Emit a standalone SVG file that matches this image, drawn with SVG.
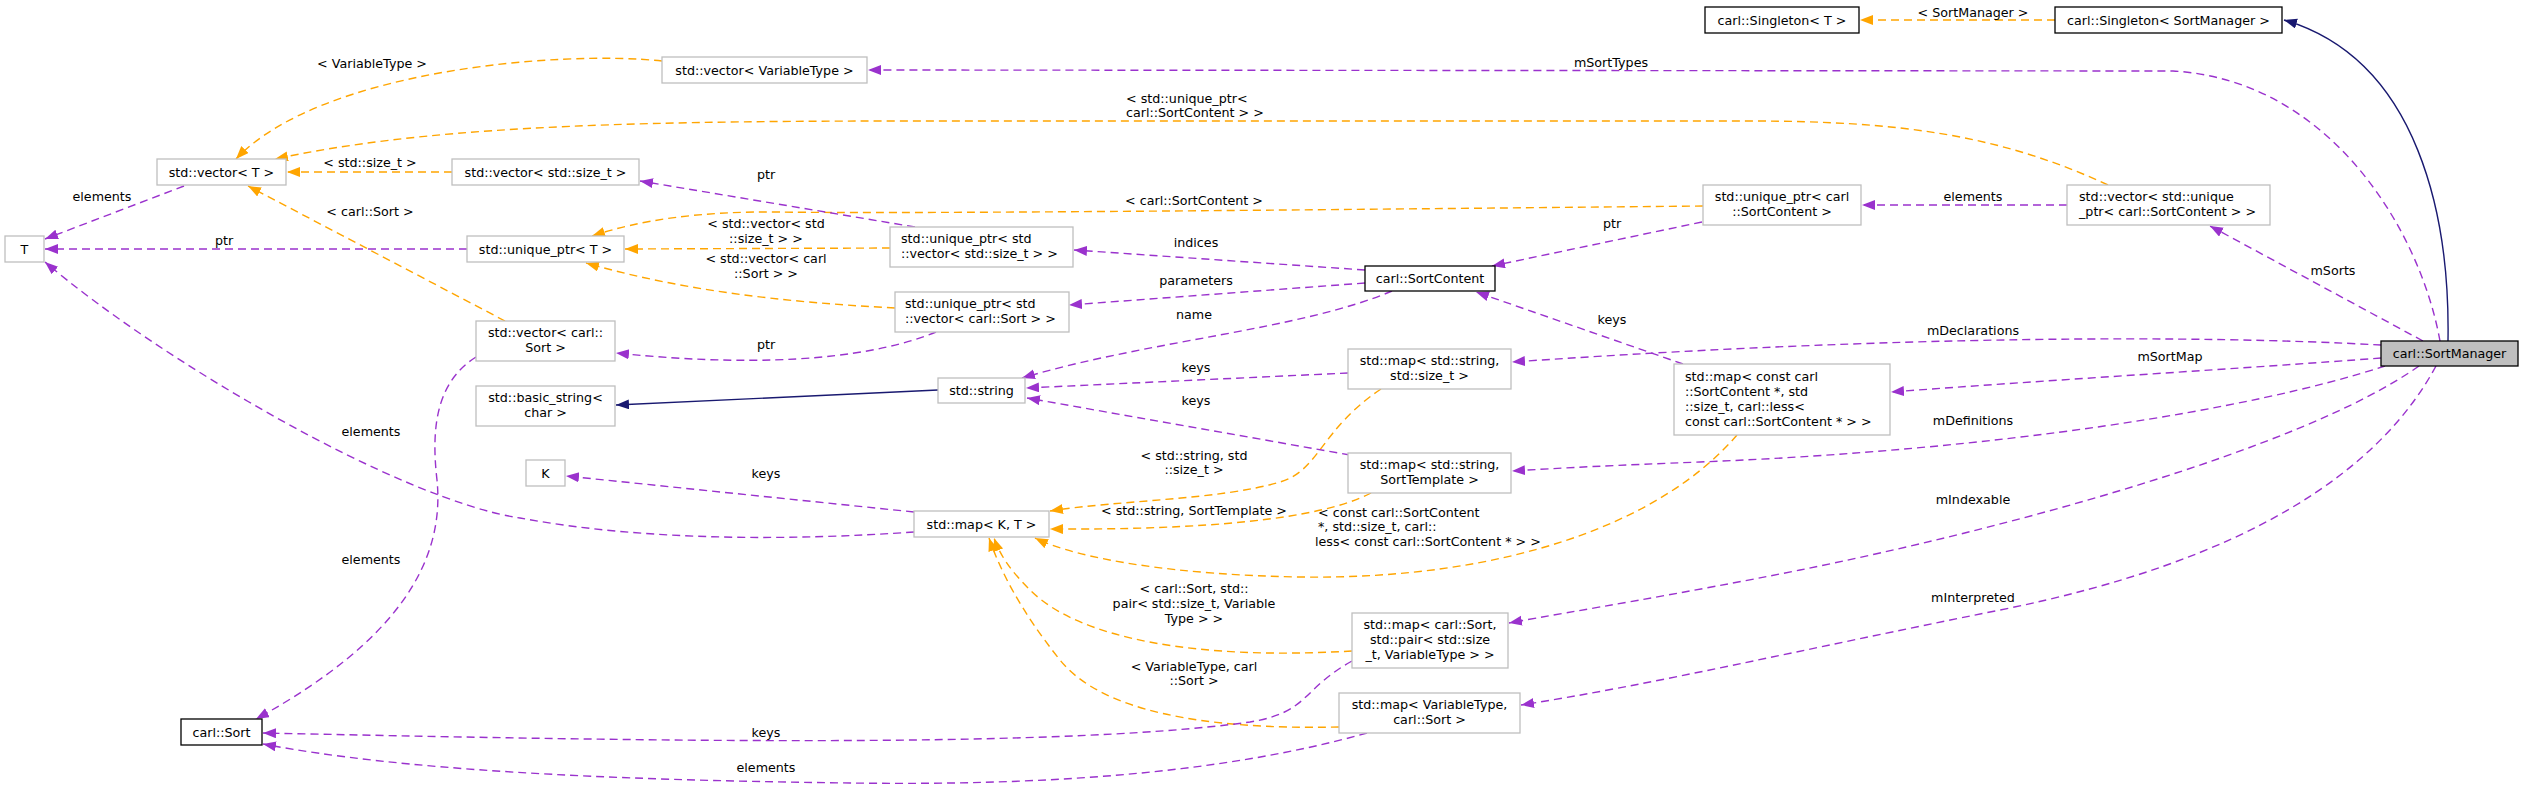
<svg xmlns="http://www.w3.org/2000/svg" width="2524" height="790" viewBox="0 0 2524 790">
<style>
text{font-family:"DejaVu Sans","Liberation Sans",sans-serif;font-size:12.7px;fill:#000}
.c{text-anchor:middle}
.l{text-anchor:start}
.n{fill:#fff;stroke:#bfbfbf;stroke-width:1.3}
.d{fill:#fff;stroke:#000;stroke-width:1.3}
.cur{fill:#bfbfbf;stroke:#000;stroke-width:1.3}
.pu{fill:none;stroke:#9a32cd;stroke-width:1.4;stroke-dasharray:8,5;marker-end:url(#ap)}
.or{fill:none;stroke:#ffa500;stroke-width:1.4;stroke-dasharray:8,5;marker-end:url(#ao)}
.nv{fill:none;stroke:#191970;stroke-width:1.4;marker-end:url(#an)}
</style>
<defs>
<marker id="ap" markerUnits="userSpaceOnUse" markerWidth="14" markerHeight="12" refX="13" refY="5" orient="auto"><path d="M0,0 L13,5 L0,10 z" fill="#9a32cd"/></marker>
<marker id="ao" markerUnits="userSpaceOnUse" markerWidth="14" markerHeight="12" refX="13" refY="5" orient="auto"><path d="M0,0 L13,5 L0,10 z" fill="#ffa500"/></marker>
<marker id="an" markerUnits="userSpaceOnUse" markerWidth="14" markerHeight="12" refX="13" refY="5" orient="auto"><path d="M0,0 L13,5 L0,10 z" fill="#191970"/></marker>
</defs>
<rect width="2524" height="790" fill="#fff"/>
<g id="connectors">
<path class="nv" d="M2448,341 C2450,220 2420,60 2284,20"/>
<path class="nv" d="M938,390 L616,405"/>
<path class="or" d="M2055,20 L1860,20"/>
<text class="c" x="1973" y="17">&lt; SortManager &gt;</text>
<path class="or" d="M662,61 C560,50 320,70 236,159"/>
<text class="c" x="372" y="68">&lt; VariableType &gt;</text>
<path class="or" d="M2108,185 C2000,135 1900,121 1750,121 L900,121 C600,121 420,128 275,159"/>
<text class="l" x="1126" y="103">&lt; std::unique_ptr&lt;</text>
<text class="l" x="1126" y="117">carl::SortContent &gt; &gt;</text>
<path class="or" d="M452,172 L287,172"/>
<text class="c" x="370" y="167">&lt; std::size_t &gt;</text>
<path class="or" d="M505,321 L248,186"/>
<text class="c" x="370" y="216">&lt; carl::Sort &gt;</text>
<path class="or" d="M1703,206 C1300,210 900,214 780,212 C700,211 640,220 592,236"/>
<text class="c" x="1194" y="205">&lt; carl::SortContent &gt;</text>
<path class="or" d="M890,248 L625,249"/>
<text class="c" x="766" y="228">&lt; std::vector&lt; std</text>
<text class="c" x="766" y="243">::size_t &gt; &gt;</text>
<path class="or" d="M895,308 C780,302 680,290 586,263"/>
<text class="c" x="766" y="263">&lt; std::vector&lt; carl</text>
<text class="c" x="766" y="278">::Sort &gt; &gt;</text>
<path class="or" d="M1381,389 C1320,430 1320,470 1280,482 C1220,500 1120,500 1050,511"/>
<text class="c" x="1194" y="460">&lt; std::string, std</text>
<text class="c" x="1194" y="474">::size_t &gt;</text>
<path class="or" d="M1371,493 C1320,520 1200,530 1050,529"/>
<text class="c" x="1194" y="515">&lt; std::string, SortTemplate &gt;</text>
<path class="or" d="M1737,435 C1660,525 1500,580 1300,577 C1180,575 1080,560 1035,538"/>
<text class="l" x="1318" y="517">&lt; const carl::SortContent</text>
<text class="l" x="1318" y="531">*, std::size_t, carl::</text>
<text class="l" x="1315" y="546">less&lt; const carl::SortContent * &gt; &gt;</text>
<path class="or" d="M1352,651 C1200,660 1080,640 1030,590 C1010,570 1000,555 994,538"/>
<text class="c" x="1194" y="593">&lt; carl::Sort, std::</text>
<text class="c" x="1194" y="608">pair&lt; std::size_t, Variable</text>
<text class="c" x="1194" y="623">Type &gt; &gt;</text>
<path class="or" d="M1339,727 C1200,730 1100,710 1060,660 C1020,610 1000,570 989,538"/>
<text class="c" x="1194" y="671">&lt; VariableType, carl</text>
<text class="c" x="1194" y="685">::Sort &gt;</text>
<path class="pu" d="M2440,341 C2420,230 2330,80 2173,71 L868,70"/>
<text class="c" x="1611" y="67">mSortTypes</text>
<path class="pu" d="M2423,341 L2210,226"/>
<text class="c" x="2333" y="275">mSorts</text>
<path class="pu" d="M2381,345 C2200,335 1900,335 1512,362"/>
<text class="c" x="1973" y="335">mDeclarations</text>
<path class="pu" d="M2381,358 C2250,368 2050,380 1891,392"/>
<text class="c" x="2170" y="361">mSortMap</text>
<path class="pu" d="M2385,366 C2250,410 2000,450 1700,462 C1620,465 1560,468 1512,471"/>
<text class="c" x="1973" y="425">mDefinitions</text>
<path class="pu" d="M2419,366 C2300,450 2000,530 1800,570 C1680,594 1580,610 1509,623"/>
<text class="c" x="1973" y="504">mIndexable</text>
<path class="pu" d="M2436,366 C2380,470 2250,560 2000,610 C1800,650 1650,685 1521,705"/>
<text class="c" x="1973" y="602">mInterpreted</text>
<path class="pu" d="M2067,205 L1862,205"/>
<text class="c" x="1973" y="201">elements</text>
<path class="pu" d="M1702,222 L1492,266"/>
<text class="c" x="1612" y="228">ptr</text>
<path class="pu" d="M1365,270 L1074,250"/>
<text class="c" x="1196" y="247">indices</text>
<path class="pu" d="M1365,283 L1069,305"/>
<text class="c" x="1196" y="285">parameters</text>
<path class="pu" d="M1392,291 C1300,330 1150,340 1022,378"/>
<text class="c" x="1194" y="319">name</text>
<path class="pu" d="M1683,364 L1476,292"/>
<text class="c" x="1612" y="324">keys</text>
<path class="pu" d="M1348,373 L1026,388"/>
<text class="c" x="1196" y="372">keys</text>
<path class="pu" d="M1350,455 L1027,398"/>
<text class="c" x="1196" y="405">keys</text>
<path class="pu" d="M915,227 L640,181"/>
<text class="c" x="766" y="179">ptr</text>
<path class="pu" d="M936,332 C880,355 780,370 616,353"/>
<text class="c" x="766" y="349">ptr</text>
<path class="pu" d="M467,249 L45,249"/>
<text class="c" x="224" y="245">ptr</text>
<path class="pu" d="M184,186 L45,239"/>
<text class="c" x="102" y="201">elements</text>
<path class="pu" d="M914,532 C800,540 650,542 520,518 C400,500 160,360 45,262"/>
<text class="c" x="371" y="436">elements</text>
<path class="pu" d="M914,512 L566,476"/>
<text class="c" x="766" y="478">keys</text>
<path class="pu" d="M476,357 C440,380 430,420 437,480 C445,560 400,640 256,719"/>
<text class="c" x="371" y="564">elements</text>
<path class="pu" d="M1352,661 C1300,690 1310,712 1250,722 C1050,750 600,740 263,733"/>
<text class="c" x="766" y="737">keys</text>
<path class="pu" d="M1367,733 C1200,780 1000,785 850,783 C600,780 400,770 263,744"/>
<text class="c" x="766" y="772">elements</text>
</g>
<g id="singletonT"><rect class="d" x="1705" y="7" width="154" height="26"/><text class="c" x="1782" y="24.5">carl::Singleton&lt; T &gt;</text></g>
<g id="singletonSM"><rect class="d" x="2055" y="7" width="227" height="26"/><text class="c" x="2168.5" y="24.5">carl::Singleton&lt; SortManager &gt;</text></g>
<g id="vecVT"><rect class="n" x="662" y="57" width="205" height="26"/><text class="c" x="764.5" y="74.5">std::vector&lt; VariableType &gt;</text></g>
<g id="vecT"><rect class="n" x="157" y="159" width="129" height="26"/><text class="c" x="221.5" y="176.5">std::vector&lt; T &gt;</text></g>
<g id="vecSize"><rect class="n" x="452" y="159" width="187" height="26"/><text class="c" x="545.5" y="176.5">std::vector&lt; std::size_t &gt;</text></g>
<g id="T"><rect class="n" x="5" y="236" width="39" height="26"/><text class="c" x="24.5" y="253.5">T</text></g>
<g id="uptrT"><rect class="n" x="467" y="236" width="157" height="26"/><text class="c" x="545.5" y="253.5">std::unique_ptr&lt; T &gt;</text></g>
<g id="vecSort"><rect class="n" x="476" y="321" width="139" height="40"/><text class="c" x="545.5" y="337">std::vector&lt; carl::</text><text class="c" x="545.5" y="352">Sort &gt;</text></g>
<g id="basicString"><rect class="n" x="476" y="386" width="139" height="40"/><text class="c" x="545.5" y="402">std::basic_string&lt;</text><text class="c" x="545.5" y="417">char &gt;</text></g>
<g id="K"><rect class="n" x="526" y="460" width="39" height="26"/><text class="c" x="545.5" y="477.5">K</text></g>
<g id="carlSort"><rect class="d" x="181" y="719" width="81" height="26"/><text class="c" x="221.5" y="736.5">carl::Sort</text></g>
<g id="uptrVecSize"><rect class="n" x="890" y="227" width="183" height="40"/><text class="l" x="901" y="243">std::unique_ptr&lt; std</text><text class="l" x="901" y="258">::vector&lt; std::size_t &gt; &gt;</text></g>
<g id="uptrVecSort"><rect class="n" x="895" y="292" width="174" height="40"/><text class="l" x="905" y="308">std::unique_ptr&lt; std</text><text class="l" x="905" y="323">::vector&lt; carl::Sort &gt; &gt;</text></g>
<g id="sortContent"><rect class="d" x="1365" y="266" width="130" height="25"/><text class="c" x="1430" y="283">carl::SortContent</text></g>
<g id="stdString"><rect class="n" x="938" y="378" width="87" height="25"/><text class="c" x="981.5" y="395">std::string</text></g>
<g id="mapStrSize"><rect class="n" x="1348" y="349" width="163" height="40"/><text class="c" x="1429.5" y="365">std::map&lt; std::string,</text><text class="c" x="1429.5" y="380">std::size_t &gt;</text></g>
<g id="uptrSC"><rect class="n" x="1703" y="185" width="158" height="40"/><text class="c" x="1782" y="201">std::unique_ptr&lt; carl</text><text class="c" x="1782" y="216">::SortContent &gt;</text></g>
<g id="vecUptrSC"><rect class="n" x="2067" y="185" width="203" height="40"/><text class="l" x="2079" y="201">std::vector&lt; std::unique</text><text class="l" x="2079" y="216">_ptr&lt; carl::SortContent &gt; &gt;</text></g>
<g id="sortManager"><rect class="cur" x="2381" y="341" width="137" height="25"/><text class="c" x="2449.5" y="358">carl::SortManager</text></g>
<g id="mapSCptr"><rect class="n" x="1674" y="364" width="216" height="71"/><text class="l" x="1685" y="381">std::map&lt; const carl</text><text class="l" x="1685" y="396">::SortContent *, std</text><text class="l" x="1685" y="411">::size_t, carl::less&lt;</text><text class="l" x="1685" y="426"> const carl::SortContent * &gt; &gt;</text></g>
<g id="mapStrST"><rect class="n" x="1348" y="453" width="163" height="40"/><text class="c" x="1429.5" y="469">std::map&lt; std::string,</text><text class="c" x="1429.5" y="484">SortTemplate &gt;</text></g>
<g id="mapKT"><rect class="n" x="914" y="511" width="135" height="26"/><text class="c" x="981.5" y="528.5">std::map&lt; K, T &gt;</text></g>
<g id="mapSortPair"><rect class="n" x="1352" y="613" width="156" height="55"/><text class="c" x="1430" y="629">std::map&lt; carl::Sort,</text><text class="c" x="1430" y="644">std::pair&lt; std::size</text><text class="c" x="1430" y="659">_t, VariableType &gt; &gt;</text></g>
<g id="mapVTSort"><rect class="n" x="1339" y="693" width="181" height="40"/><text class="c" x="1429.5" y="709">std::map&lt; VariableType,</text><text class="c" x="1429.5" y="724">carl::Sort &gt;</text></g>
</svg>
